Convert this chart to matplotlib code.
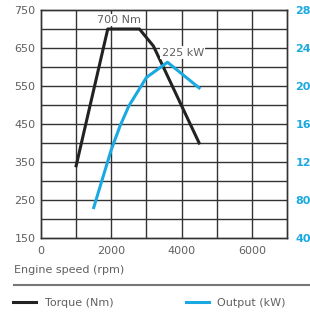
import matplotlib
matplotlib.use("Agg")
import matplotlib.pyplot as plt
from matplotlib.lines import Line2D

# torque curve (Nm) vs engine speed (rpm)
torque_rpm = [1000, 1900, 2800, 3200, 4500]
torque_nm = [340, 700, 700, 655, 400]

# output curve (kW) vs engine speed (rpm)
output_rpm = [1500, 2000, 2250, 2500, 3000, 3600, 4500]
output_kw = [72, 133, 158, 179, 209, 225, 198]

x_ticks = [0, 2000, 4000, 6000]
left_ticks = [150, 250, 350, 450, 550, 650, 750]
right_ticks = [40, 80, 120, 160, 200, 240, 280]

BLUE = "#1aa9e1"
BLACK = "#222222"
GRID = "#333333"
TEXT = "#606060"


def main() -> None:
    plt.rcParams["font.family"] = ["DejaVu Sans"]
    fig = plt.figure(figsize=(3.10, 3.16), dpi=100)
    ax = fig.add_axes([41 / 310, 1 - 238 / 316, 246 / 310, 228 / 316])
    ax2 = ax.twinx()

    ax.set_xlim(0, 7000)
    ax.set_ylim(150, 750)
    ax2.set_ylim(40, 280)

    # grid every 1000 rpm / 50 Nm
    for x in range(1000, 7000, 1000):
        ax.axvline(x, color=GRID, lw=1.0, zorder=1)
    for y in range(200, 750, 50):
        ax.axhline(y, color=GRID, lw=1.0, zorder=1)
    for ax_ in (ax, ax2):
        for sp in ax_.spines.values():
            sp.set_color(GRID)
            sp.set_linewidth(1.0)

    ax.set_xticks(x_ticks)
    ax.set_yticks(left_ticks)
    ax.tick_params(axis="both", length=0, labelsize=8, labelcolor=TEXT)
    ax.tick_params(axis="x", pad=6)
    ax.tick_params(axis="y", pad=4)

    # right-hand labels run past the figure edge, as in the source
    ax2.set_yticks(right_ticks)
    ax2.tick_params(axis="y", length=0, labelsize=8, labelcolor=BLUE, pad=6)
    for lab in ax2.get_yticklabels():
        lab.set_fontweight("bold")

    (torque_line,) = ax.plot(torque_rpm, torque_nm, color=BLACK, lw=2.2,
                             zorder=3, label="Torque (Nm)")
    (output_line,) = ax2.plot(output_rpm, output_kw, color=BLUE, lw=2.2,
                              zorder=3, label="Output (kW)")

    box = dict(facecolor="white", edgecolor="none", pad=1.0)
    ax.text(2230, 724, "700 Nm", ha="center", va="center", fontsize=8,
            color=TEXT, bbox=box, zorder=4)
    ax.text(4030, 638, "225 kW", ha="center", va="center", fontsize=8,
            color=TEXT, bbox=box, zorder=4)

    fig.text(14 / 310, 1 - 270 / 316, "Engine speed (rpm)", ha="left",
             va="center", fontsize=8, color=TEXT)
    fig.add_artist(Line2D([14 / 310, 1.0], [1 - 285 / 316, 1 - 285 / 316],
                          color="#777777", lw=1.5, transform=fig.transFigure))

    fig.legend(handles=[torque_line, output_line], loc="center left",
               bbox_to_anchor=(13 / 310, 1 - 303 / 316), ncol=2, frameon=False,
               fontsize=8, handlelength=2.1, handletextpad=0.75,
               columnspacing=6.5, labelcolor=TEXT, borderaxespad=0,
               borderpad=0)

    fig.savefig("out.png", dpi=100, facecolor="white")


if __name__ == "__main__":
    main()
